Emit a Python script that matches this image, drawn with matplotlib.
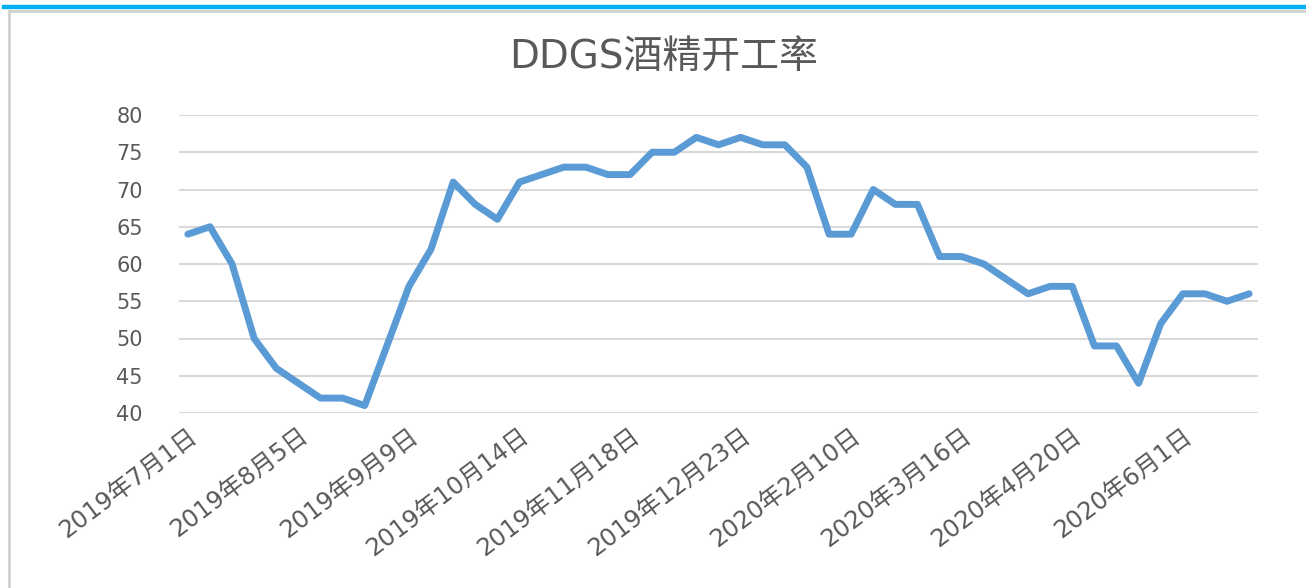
import matplotlib.pyplot as plt
from matplotlib.lines import Line2D
from matplotlib.patches import Rectangle

plt.rcParams['font.family'] = ['DejaVu Sans', 'Noto Sans CJK SC']

# weekly ethanol plant operating rate (%), 49 weeks
rate = [64, 65, 60, 50, 46, 44, 42, 42, 41, 49,
        57, 62, 71, 68, 66, 71, 72, 73, 73, 72,
        72, 75, 75, 77, 76, 77, 76, 76, 73, 64,
        64, 70, 68, 68, 61, 61, 60, 58, 56, 57,
        57, 49, 49, 44, 52, 56, 56, 55, 56]

tick_labels = ['2019年7月1日', '2019年8月5日', '2019年9月9日', '2019年10月14日',
               '2019年11月18日', '2019年12月23日', '2020年2月10日', '2020年3月16日',
               '2020年4月20日', '2020年6月1日']
tick_step = 5

W, H = 1306, 588
fig = plt.figure(figsize=(W / 100, H / 100), dpi=100)

# chart frame and the cyan bar on top
fig.patches.append(Rectangle((2 / W, 1 - 8 / H), 1, 3 / H, transform=fig.transFigure,
                             color='#00B0F0', zorder=0))
fig.lines.append(Line2D([9 / W, 9 / W], [0, 1 - 11 / H], transform=fig.transFigure,
                        color='#D0D0D0', lw=2))
fig.lines.append(Line2D([9 / W, 1], [1 - 11 / H, 1 - 11 / H], transform=fig.transFigure,
                        color='#D0D0D0', lw=2))

ax = fig.add_axes([179 / W, 1 - 413 / H, (1258 - 179) / W, (413 - 115) / H])
x = list(range(len(rate)))
ax.plot(x, rate, color='#5B9BD5', lw=5, solid_joinstyle='round',
        solid_capstyle='round', zorder=3)

ax.set_ylim(40, 80)
ax.set_yticks(range(40, 85, 5))
ax.set_xlim(-0.4, len(rate) - 0.6)
ax.set_xticks(x[::tick_step])
ax.set_xticklabels(tick_labels, rotation=37, ha='right', va='top',
                   rotation_mode='anchor', fontsize=17.5)
ax.grid(axis='y', color='#D9D9D9', lw=1.5)
ax.set_axisbelow(True)
for s in ax.spines.values():
    s.set_visible(False)
ax.tick_params(axis='both', length=0, colors='#595959')
ax.tick_params(axis='y', pad=26, labelsize=15)
ax.tick_params(axis='x', pad=8)
for lab in ax.get_xticklabels():
    lab.set_x(lab.get_position()[0] + 0.3)

fig.text(664 / W, 1 - 57 / H, 'DDGS酒精开工率', ha='center', va='center',
         fontsize=28, color='#595959')

fig.savefig('out.png', dpi=100)
